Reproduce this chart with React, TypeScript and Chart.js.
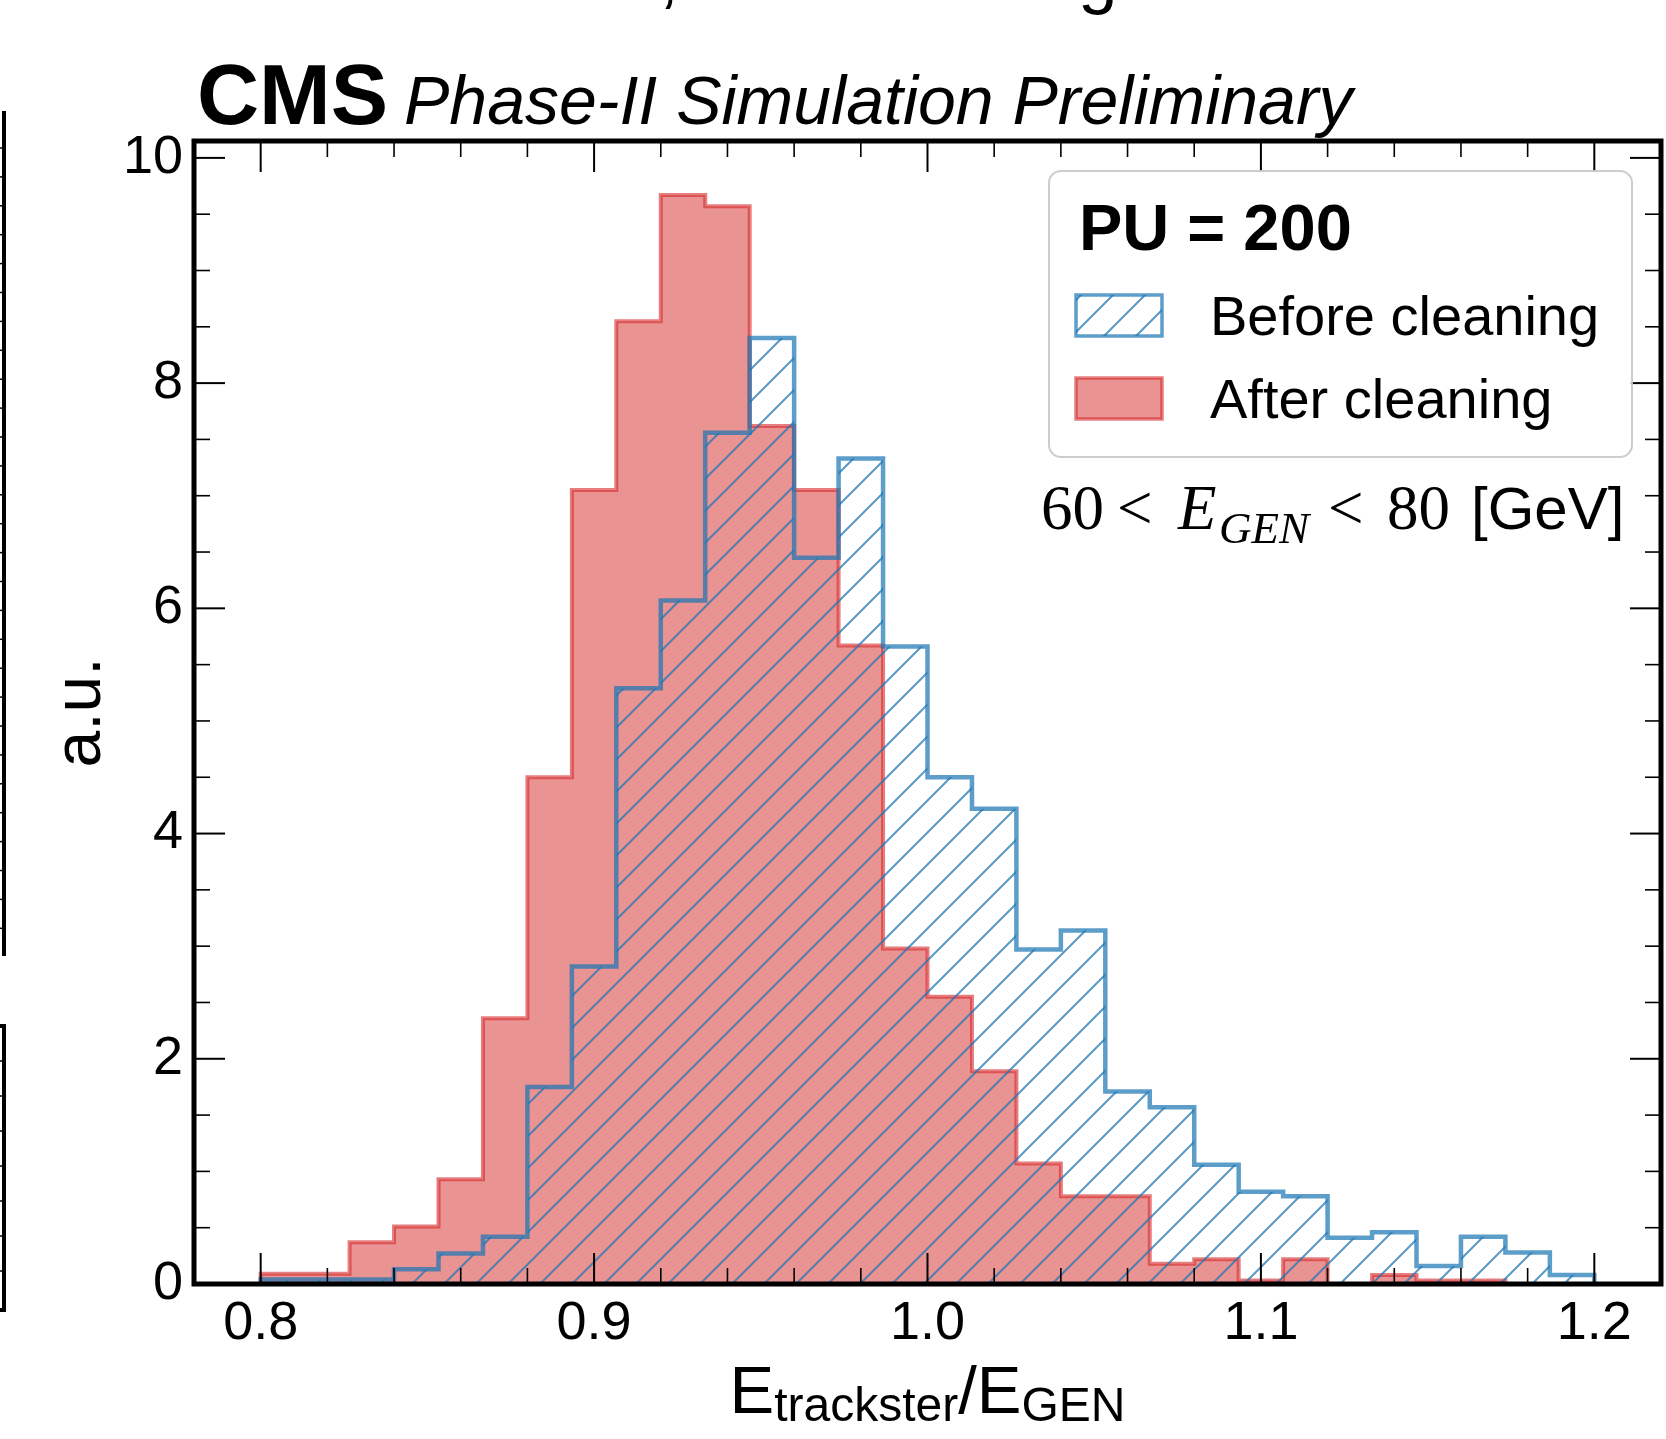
import React, { useEffect, useRef } from "react";
import { Chart, registerables } from "chart.js";

Chart.register(...registerables);

// ---------------- data ----------------
const BIN_LOW = 0.8;
const BIN_HIGH = 1.2;
const BEFORE_CLEANING = [
  0.04, 0.04, 0.04, 0.13, 0.27, 0.42, 1.75, 2.82, 5.29, 6.07,
  7.56, 8.4, 6.45, 7.33, 5.66, 4.5, 4.22, 2.97, 3.14, 1.71,
  1.57, 1.06, 0.82, 0.78, 0.41, 0.46, 0.16, 0.42, 0.28, 0.08,
];
const AFTER_CLEANING = [
  0.09, 0.09, 0.37, 0.51, 0.93, 2.36, 4.5, 7.05, 8.55, 9.67,
  9.57, 7.62, 7.05, 5.67, 2.98, 2.55, 1.89, 1.07, 0.78, 0.78,
  0.18, 0.22, 0.03, 0.22, 0.0, 0.08, 0.03, 0.03, 0.0, 0.0,
];
const X_TICKS = [0.8, 0.9, 1.0, 1.1, 1.2];
const X_TICK_LABELS = ["0.8", "0.9", "1.0", "1.1", "1.2"];
const Y_TICKS = [0, 2, 4, 6, 8, 10];
const Y_TICK_LABELS = ["0", "2", "4", "6", "8", "10"];
const X_MIN = 0.78;
const X_MAX = 1.22;
const Y_MIN = 0;
const Y_MAX = 10.15;
const X_MINOR_STEP = 0.02;
const Y_MINOR_STEP = 0.5;
const SERIES_LABELS = ["Before cleaning", "After cleaning"];
const LEGEND_TITLE = "PU = 200";

// ---------------- styles ----------------
const SANS = "'Liberation Sans', Arial, Helvetica, sans-serif";
const SERIF = "'Liberation Serif', 'Times New Roman', serif";
const BLUE_EDGE = "rgba(31,119,180,0.72)";
const BLUE_HATCH = "rgba(31,119,180,0.75)";
const RED_FILL = "rgba(214,39,40,0.5)";
const RED_EDGE = "rgba(214,39,40,0.6)";

function stepPoints(values: number[]) {
  const w = (BIN_HIGH - BIN_LOW) / values.length;
  const pts: { x: number; y: number }[] = [{ x: BIN_LOW, y: 0 }];
  values.forEach((v, i) => pts.push({ x: BIN_LOW + i * w, y: v }));
  pts.push({ x: BIN_HIGH, y: values[values.length - 1] });
  pts.push({ x: BIN_HIGH, y: 0 });
  return pts;
}

function makeHatch(color: string, size: number, lw: number) {
  const c = document.createElement("canvas");
  c.width = size;
  c.height = size;
  const g = c.getContext("2d")!;
  g.strokeStyle = color;
  g.lineWidth = lw;
  g.beginPath();
  for (let k = -1; k <= 1; k++) {
    g.moveTo(k * size - 1, size + 1);
    g.lineTo(k * size + size + 1, -1);
  }
  g.stroke();
  return g.createPattern(c, "repeat")!;
}

function makeDecorPlugin(hatch: CanvasPattern) {
  return {
    id: "cmsDecor",
    afterDraw(chart: any) {
      const ctx: CanvasRenderingContext2D = chart.ctx;
      const { left, right, top, bottom } = chart.chartArea;
      const xs = chart.scales.x;
      const ys = chart.scales.y;
      ctx.save();

      // ---- frame ----
      ctx.strokeStyle = "#000";
      ctx.lineJoin = "miter";
      ctx.lineWidth = 5;
      ctx.strokeRect(left, top, right - left, bottom - top);

      // ---- ticks (inward, all sides) ----
      const MAJ = 31;
      const MIN = 16;
      const vline = (x: number, y0: number, y1: number) => {
        ctx.beginPath();
        ctx.moveTo(x, y0);
        ctx.lineTo(x, y1);
        ctx.stroke();
      };
      const hline = (y: number, x0: number, x1: number) => {
        ctx.beginPath();
        ctx.moveTo(x0, y);
        ctx.lineTo(x1, y);
        ctx.stroke();
      };
      ctx.lineWidth = 2;
      X_TICKS.forEach((v) => {
        const px = xs.getPixelForValue(v);
        vline(px, bottom, bottom - MAJ);
        vline(px, top, top + MAJ);
      });
      Y_TICKS.forEach((v) => {
        const py = ys.getPixelForValue(v);
        hline(py, left, left + MAJ);
        hline(py, right, right - MIN * 0 - MAJ);
      });
      ctx.lineWidth = 1.6;
      for (let i = -5; i < 30; i++) {
        const v = Math.round((BIN_LOW + i * X_MINOR_STEP) * 1000) / 1000;
        if (v <= X_MIN + 1e-6 || v >= X_MAX - 1e-6) continue;
        if (X_TICKS.some((t) => Math.abs(t - v) < 1e-6)) continue;
        const px = xs.getPixelForValue(v);
        vline(px, bottom, bottom - MIN);
        vline(px, top, top + MIN);
      }
      for (let i = 0; i < 40; i++) {
        const v = i * Y_MINOR_STEP;
        if (v <= Y_MIN || v >= Y_MAX) continue;
        if (Y_TICKS.some((t) => Math.abs(t - v) < 1e-6)) continue;
        const py = ys.getPixelForValue(v);
        hline(py, left, left + MIN);
        hline(py, right, right - MIN);
      }

      // ---- legend ----
      ctx.beginPath();
      (ctx as any).roundRect(1049, 171, 583, 286, 12);
      ctx.fillStyle = "rgba(255,255,255,0.8)";
      ctx.fill();
      ctx.lineWidth = 2;
      ctx.strokeStyle = "rgba(200,200,200,0.9)";
      ctx.stroke();

      ctx.fillStyle = "#000";
      ctx.textBaseline = "alphabetic";
      ctx.textAlign = "left";
      ctx.font = `bold 65px ${SANS}`;
      ctx.fillText(LEGEND_TITLE, 1079, 250);

      // patch 1 (hatched)
      ctx.fillStyle = hatch;
      ctx.fillRect(1076, 295, 86, 41);
      ctx.strokeStyle = BLUE_EDGE;
      ctx.lineWidth = 3.5;
      ctx.strokeRect(1076, 295, 86, 41);
      // patch 2 (filled)
      ctx.fillStyle = RED_FILL;
      ctx.fillRect(1076, 378, 86, 41);
      ctx.strokeStyle = RED_EDGE;
      ctx.strokeRect(1076, 378, 86, 41);

      ctx.fillStyle = "#000";
      ctx.font = `56px ${SANS}`;
      ctx.fillText(SERIES_LABELS[0], 1210, 335);
      ctx.fillText(SERIES_LABELS[1], 1210, 418);

      // ---- energy range annotation ----
      ctx.font = `63px ${SERIF}`;
      ctx.fillText("60", 1041, 529);
      ctx.fillText("<", 1117, 529);
      ctx.font = `italic 63px ${SERIF}`;
      ctx.fillText("E", 1178, 529);
      ctx.font = `italic 45px ${SERIF}`;
      ctx.fillText("GEN", 1219, 543);
      ctx.font = `63px ${SERIF}`;
      ctx.fillText("<", 1328, 529);
      ctx.fillText("80", 1387, 529);
      ctx.font = `60px ${SANS}`;
      ctx.fillText("[GeV]", 1471, 529);

      // ---- CMS label ----
      ctx.font = `bold 86px ${SANS}`;
      ctx.fillText("CMS", 197, 124);
      ctx.font = `italic 68px ${SANS}`;
      ctx.fillText("Phase-II Simulation Preliminary", 404, 124);

      // ---- axis titles ----
      const cx = (left + right) / 2;
      const big = 67;
      const small = 48;
      const parts: [string, number, number][] = [
        ["E", big, 0],
        ["trackster", small, 8],
        ["/", big, 0],
        ["E", big, 0],
        ["GEN", small, 8],
      ];
      let total = 0;
      parts.forEach(([t, s]) => {
        ctx.font = `${s}px ${SANS}`;
        total += ctx.measureText(t).width;
      });
      let px = cx - total / 2;
      parts.forEach(([t, s, dy]) => {
        ctx.font = `${s}px ${SANS}`;
        ctx.fillText(t, px, 1413 + dy);
        px += ctx.measureText(t).width;
      });

      ctx.save();
      ctx.translate(100, (top + bottom) / 2);
      ctx.rotate(-Math.PI / 2);
      ctx.textAlign = "center";
      ctx.font = `66px ${SANS}`;
      ctx.fillText("a.u.", 0, 0);
      ctx.restore();

      // ---- cropped fragments of the surrounding figure ----
      ctx.font = `71px ${SANS}`;
      ctx.fillText(",", 659, 0);
      ctx.fillText("g", 1078, 0);
      ctx.strokeStyle = "#000";
      ctx.lineWidth = 4;
      vline(4, 111, 956);
      ctx.lineWidth = 1.5;
      for (let y = 148; y < 950; y += 28.9) hline(y, 0, 4);
      ctx.lineWidth = 4;
      ctx.beginPath();
      ctx.moveTo(0, 1026);
      ctx.lineTo(4, 1026);
      ctx.lineTo(4, 1310);
      ctx.lineTo(0, 1310);
      ctx.stroke();
      ctx.lineWidth = 1.5;
      for (let y = 1061; y < 1300; y += 35) hline(y, 0, 4);

      ctx.restore();
    },
  };
}

export default function App() {
  const ref = useRef<HTMLCanvasElement>(null);

  useEffect(() => {
    document.body.style.margin = "0";
    document.body.style.overflow = "hidden";
    const canvas = ref.current!;
    const hatch = makeHatch(BLUE_HATCH, 32, 2);

    const chart = new Chart(canvas, {
      type: "line",
      data: {
        datasets: [
          {
            label: SERIES_LABELS[0],
            data: stepPoints(BEFORE_CLEANING),
            stepped: "before",
            borderColor: BLUE_EDGE,
            borderWidth: 4.5,
            backgroundColor: hatch as any,
            fill: "origin",
            pointRadius: 0,
            tension: 0,
            order: 0,
          },
          {
            label: SERIES_LABELS[1],
            data: stepPoints(AFTER_CLEANING),
            stepped: "before",
            borderColor: RED_EDGE,
            borderWidth: 4,
            backgroundColor: RED_FILL,
            fill: "origin",
            pointRadius: 0,
            tension: 0,
            order: 1,
          },
        ],
      },
      options: {
        responsive: false,
        animation: false,
        devicePixelRatio: 1,
        events: [],
        layout: { padding: { top: 141, right: 5, left: 0, bottom: 0 } },
        plugins: {
          legend: { display: false },
          tooltip: { enabled: false },
        },
        scales: {
          x: {
            type: "linear",
            min: X_MIN,
            max: X_MAX,
            afterBuildTicks: (s: any) => {
              s.ticks = X_TICKS.map((v) => ({ value: v }));
            },
            afterFit: (s: any) => {
              s.height = 155;
            },
            grid: { display: false, drawTicks: false },
            border: { display: false },
            ticks: {
              autoSkip: false,
              maxRotation: 0,
              padding: 8,
              color: "#000",
              font: { family: SANS, size: 54 },
              callback: (_v: any, i: number) => X_TICK_LABELS[i],
            },
          },
          y: {
            type: "linear",
            min: Y_MIN,
            max: Y_MAX,
            afterBuildTicks: (s: any) => {
              s.ticks = Y_TICKS.map((v) => ({ value: v }));
            },
            afterFit: (s: any) => {
              s.width = 194;
            },
            grid: { display: false, drawTicks: false },
            border: { display: false },
            ticks: {
              autoSkip: false,
              padding: 11,
              color: "#000",
              font: { family: SANS, size: 54 },
              callback: (_v: any, i: number) => Y_TICK_LABELS[i],
            },
          },
        },
      },
      plugins: [makeDecorPlugin(hatch)],
    } as any);

    return () => chart.destroy();
  }, []);

  return (
    <canvas
      ref={ref}
      width={1666}
      height={1439}
      style={{ display: "block", width: "1666px", height: "1439px" }}
    />
  );
}
